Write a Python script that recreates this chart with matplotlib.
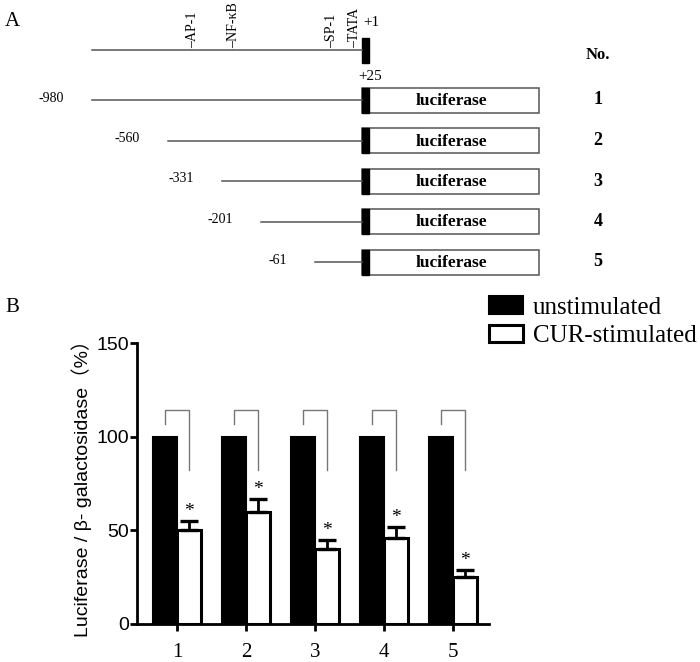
import numpy as np
import matplotlib
matplotlib.use("Agg")
import matplotlib.pyplot as plt
from matplotlib.patches import Rectangle

SERIF = ["Liberation Serif", "DejaVu Serif"]
SANS = ["Liberation Sans", "Noto Sans CJK SC", "DejaVu Sans"]

# ---- data ----
constructs = ["1", "2", "3", "4", "5"]
construct_starts = ["-980", "-560", "-331", "-201", "-61"]
sites = ["AP-1", "NF-\u03baB", "SP-1", "TATA"]

unstimulated = [100, 100, 100, 100, 100]
cur_stimulated = [50, 60, 40, 46, 25]
cur_err = [5, 6.5, 5, 6, 4]

# ---- layout of the schematic (pixels) ----
line_start_px = [92, 168, 222, 261, 315]
site_px = [192, 233, 331, 354]
tss_px = 362
box_right_px = 539
row_y0, row_dy = 100, 40.5

fig = plt.figure(figsize=(7.0, 6.62), dpi=100)

# panel A drawn in pixel space
ax0 = fig.add_axes([0, 0, 1, 1])
ax0.set_xlim(0, 700)
ax0.set_ylim(662, 0)
ax0.axis("off")

ax0.text(5, 21, "A", family=SERIF, fontsize=15, va="center")
ax0.text(5, 307, "B", family=SERIF, fontsize=15, va="center")

# full promoter line
ax0.plot([92, tss_px], [50, 50], color="#555555", lw=1.1)
ax0.add_patch(Rectangle((tss_px, 38), 7, 25, color="black"))
ax0.text(tss_px + 1, 22, "+1", family=SERIF, fontsize=11, va="center")
for name, x in zip(sites, site_px):
    ax0.text(x + 1, 48, "\u2013" + name, family=SERIF, fontsize=10, rotation=90,
             ha="center", va="bottom")
ax0.text(tss_px + 8, 76, "+25", family=SERIF, fontsize=11, ha="center", va="center")
ax0.text(598, 55, "No.", family=SERIF, fontsize=12, weight="bold", ha="center", va="center")

for i, (num, start, x0) in enumerate(zip(constructs, construct_starts, line_start_px)):
    y = row_y0 + row_dy * i
    ax0.plot([x0, tss_px], [y, y], color="#555555", lw=1.1)
    ax0.add_patch(Rectangle((tss_px, y - 12.5), box_right_px - tss_px, 25,
                            facecolor="white", edgecolor="#555555", lw=1.1))
    ax0.add_patch(Rectangle((tss_px, y - 12.5), 7, 25, color="black"))
    ax0.text((tss_px + box_right_px) / 2 + 1, y + 1, "luciferase", family=SERIF,
             fontsize=12.5, weight="bold", ha="center", va="center")
    ax0.text(598, y, num, family=SERIF, fontsize=13, weight="bold", ha="center", va="center")
    ax0.text(x0 - 28, y - 2, start, family=SERIF, fontsize=10, ha="right", va="center")

# panel B bar chart
ax = fig.add_axes([137 / 700, 38 / 662, 352 / 700, 281 / 662])
ax.patch.set_alpha(0)
x = np.arange(1, len(constructs) + 1)
w = 0.35
b1 = ax.bar(x - w / 2, unstimulated, w, color="black", edgecolor="black", lw=1.5,
            label="unstimulated")
b2 = ax.bar(x + w / 2, cur_stimulated, w, color="white", edgecolor="black", lw=2.2,
            label="CUR-stimulated")
ax.errorbar(x + w / 2, cur_stimulated, yerr=[np.zeros(len(x)), cur_err], fmt="none",
            ecolor="black", elinewidth=2.0, capsize=6.5, capthick=2.4)

for xi, v, e in zip(x, cur_stimulated, cur_err):
    ax.text(xi + w / 2, v + e + 0.5, "*", family=SERIF, fontsize=14, ha="center", va="bottom")
    # significance bracket
    ax.plot([xi - w / 2, xi - w / 2, xi + w / 2, xi + w / 2], [107, 114.5, 114.5, 82],
            color="#777777", lw=1.0)

ax.set_xlim(0.42, 5.52)
ax.set_ylim(0, 150)
ax.set_yticks([0, 50, 100, 150])
ax.set_xticks(x)
ax.set_xticklabels(constructs, family=SERIF, fontsize=15)
for lab in ax.get_yticklabels():
    lab.set_family(SANS)
    lab.set_fontsize(14)
for s in ["top", "right"]:
    ax.spines[s].set_visible(False)
for s in ["left", "bottom"]:
    ax.spines[s].set_linewidth(2.0)
ax.tick_params(width=2.0, length=5)
ax.tick_params(axis="x", pad=9)
ax.tick_params(axis="y", pad=1)
ax.set_ylabel("Luciferase / \u03b2- galactosidase\uff08%\uff09", family=SANS, fontsize=14,
              labelpad=3)

fig.legend(handles=[b1, b2], loc="upper left", bbox_to_anchor=(489 / 700, 1 - 296 / 662),
           frameon=False, prop={"family": SERIF, "size": 18}, handlelength=1.36,
           handleheight=0.7, handletextpad=0.4, labelspacing=0.25, borderpad=0,
           borderaxespad=0)

fig.savefig("out.png", dpi=100)
